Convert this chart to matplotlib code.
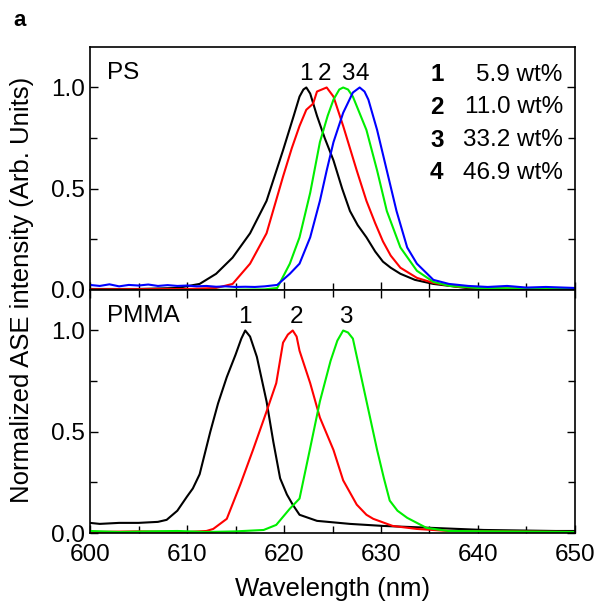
import matplotlib.pyplot as plt
from matplotlib.ticker import MultipleLocator, FormatStrFormatter

plt.rcParams['font.family'] = ['Liberation Sans', 'DejaVu Sans']

# ---- PS film (top panel) ----
ps1_wl = [600, 605, 609, 611.3, 613, 614.7, 616.5, 618.2, 619.9, 621, 621.6, 622.0, 622.3,
          622.7, 623.4, 624.2, 625.1, 626, 626.8, 627.6, 628.5, 629.4, 630.2, 631, 632,
          633.5, 635.4, 638.8, 642, 650]
ps1 = [0.005, 0.005, 0.01, 0.03, 0.08, 0.16, 0.28, 0.44, 0.69, 0.86, 0.955, 0.99, 1.0,
       0.97, 0.86, 0.75, 0.64, 0.50, 0.39, 0.32, 0.26, 0.19, 0.14, 0.11, 0.08,
       0.05, 0.03, 0.01, 0.005, 0.005]

ps2_wl = [600, 610, 613, 614.7, 616.5, 618.2, 619.9, 620.8, 621.6, 622.3, 623.0, 623.4,
          624.4, 625.1, 626.1, 627.5, 628.5, 629.4, 630.2, 631, 632, 633.7, 635.4, 638,
          642, 650]
ps2 = [0.003, 0.005, 0.01, 0.03, 0.13, 0.28, 0.56, 0.70, 0.81, 0.89, 0.92, 0.98,
       1.0, 0.955, 0.81, 0.59, 0.44, 0.33, 0.24, 0.17, 0.11, 0.06, 0.035, 0.015,
       0.008, 0.005]

ps3_wl = [600, 612, 618, 619.3, 620.6, 621.6, 622.7, 623.7, 624.5, 625.1, 625.7, 626.1,
          626.6, 627.1, 628.5, 629.6, 630.6, 632, 633.7, 635.4, 637.1, 640, 650]
ps3 = [0.0, 0.0, 0.003, 0.01, 0.13, 0.26, 0.48, 0.73, 0.86, 0.94, 0.99, 1.0,
       0.99, 0.955, 0.79, 0.59, 0.39, 0.21, 0.095, 0.04, 0.02, 0.01, 0.005]

ps4_wl = [600, 601, 602, 603, 604, 605, 606, 607, 608, 609, 610, 611, 612, 613, 614,
          615, 616, 617, 618, 619.3, 620.6, 621.6, 622.7, 623.7, 624.4, 625.1, 626.1,
          627.1, 627.8, 628.3, 628.7, 629.6, 630.6, 631.6, 632.7, 633.7, 635.4, 637, 639,
          641, 643, 645, 647, 650]
ps4 = [0.025, 0.02, 0.028, 0.018, 0.025, 0.022, 0.027, 0.02, 0.024, 0.02, 0.022, 0.018,
       0.02, 0.016, 0.018, 0.015, 0.016, 0.015, 0.018, 0.025, 0.08, 0.13, 0.26, 0.44,
       0.59, 0.73, 0.875, 0.975, 1.0, 0.98, 0.94, 0.79, 0.59, 0.39, 0.21, 0.13, 0.05,
       0.03, 0.02, 0.015, 0.02, 0.012, 0.015, 0.01]

# ---- PMMA film (bottom panel) ----
pm1_wl = [600, 601, 603, 605, 607, 607.9, 609, 610, 610.6, 611.3, 612.4, 613.2, 614.1,
          615, 615.6, 616, 616.5, 617.2, 618.2, 618.9, 619.6, 620.3, 620.9, 621.6, 623.4,
          626.8, 630.2, 635.4, 640.6, 648, 650]
pm1 = [0.05, 0.045, 0.05, 0.05, 0.055, 0.065, 0.11, 0.18, 0.22, 0.29, 0.5, 0.64, 0.77,
       0.88, 0.96, 1.0, 0.97, 0.87, 0.65, 0.45, 0.27, 0.19, 0.14, 0.09, 0.06,
       0.045, 0.035, 0.025, 0.015, 0.01, 0.01]

pm2_wl = [600, 605, 610, 612, 612.7, 614.1, 615.5, 616.8, 618.2, 619.2, 619.9, 620.4,
          620.9, 621.3, 621.6, 622.7, 623.7, 625.1, 626.1, 627.5, 628.5, 629.2, 631.2,
          633.7, 637, 650]
pm2 = [0.005, 0.008, 0.005, 0.01, 0.02, 0.07, 0.24, 0.41, 0.6, 0.74, 0.94, 0.98,
       1.0, 0.97, 0.9, 0.74, 0.57, 0.41, 0.26, 0.14, 0.09, 0.07, 0.035, 0.02,
       0.01, 0.005]

pm3_wl = [600, 603, 606, 609, 612, 615, 617.9, 619.2, 620.6, 621.6, 622.7, 623.7, 624.8,
          625.5, 626.1, 626.6, 627.1, 628.1, 629.6, 630.3, 630.9, 631.7, 632.7, 634.7,
          637, 650]
pm3 = [0.01, 0.005, 0.008, 0.01, 0.005, 0.008, 0.015, 0.04, 0.12, 0.17, 0.42, 0.65, 0.85,
       0.95, 1.0, 0.99, 0.96, 0.74, 0.41, 0.27, 0.16, 0.11, 0.075, 0.025, 0.01, 0.005]

ps_curves = [(ps1_wl, ps1), (ps2_wl, ps2), (ps3_wl, ps3), (ps4_wl, ps4)]
pm_curves = [(pm1_wl, pm1), (pm2_wl, pm2), (pm3_wl, pm3)]
colors = ['black', 'red', '#00ee00', 'blue']

ps_peak_labels = ['1', '2', '3', '4']
ps_peak_pos = [622.3, 624.2, 626.6, 628.1]
pm_peak_labels = ['1', '2', '3']
pm_peak_pos = [616.0, 621.3, 626.4]

legend_ids = ['1', '2', '3', '4']
legend_vals = ['5.9 wt%', '11.0 wt%', '33.2 wt%', '46.9 wt%']

fig, (ax1, ax2) = plt.subplots(2, 1, figsize=(6.01, 6.07), dpi=100, sharex=True)
fig.subplots_adjust(left=0.1498, right=0.9567, bottom=0.1219, top=0.9226, hspace=0)

for (wl, y), c in zip(ps_curves, colors):
    ax1.plot(wl, y, color=c, lw=1.5)
for (wl, y), c in zip(pm_curves, colors):
    ax2.plot(wl, y, color=c, lw=1.5)

for lab, x in zip(ps_peak_labels, ps_peak_pos):
    ax1.text(x, 1.01, lab, ha='center', va='bottom', fontsize=17.5)
for lab, x in zip(pm_peak_labels, pm_peak_pos):
    ax2.text(x, 1.01, lab, ha='center', va='bottom', fontsize=17.5)

for i, (num, val) in enumerate(zip(legend_ids, legend_vals)):
    yy = 0.885 - i * 0.134
    ax1.text(0.715, yy, num, transform=ax1.transAxes, ha='center', va='center',
             fontsize=17.5, fontweight='bold')
    ax1.text(0.975, yy, val, transform=ax1.transAxes, ha='right', va='center',
             fontsize=17.5)

ax1.text(0.035, 0.94, 'PS', transform=ax1.transAxes, ha='left', va='top', fontsize=17.5)
ax2.text(0.035, 0.94, 'PMMA', transform=ax2.transAxes, ha='left', va='top', fontsize=17.5)

for ax in (ax1, ax2):
    ax.set_xlim(600, 650)
    ax.set_ylim(0, 1.2)
    ax.xaxis.set_major_locator(MultipleLocator(10))
    ax.xaxis.set_minor_locator(MultipleLocator(5))
    ax.yaxis.set_major_locator(MultipleLocator(0.5))
    ax.yaxis.set_minor_locator(MultipleLocator(0.25))
    ax.yaxis.set_major_formatter(FormatStrFormatter('%.1f'))
    ax.tick_params(which='both', direction='in', right=True, labelsize=17.5, width=1)
    ax.tick_params(which='major', length=6)
    ax.tick_params(which='minor', length=5)
    for s in ax.spines.values():
        s.set_linewidth(1.2)

ax1.tick_params(which='both', top=False)
ax2.tick_params(which='both', top=True)
ax2.tick_params(axis='x', pad=8)

ax2.set_xlabel('Wavelength (nm)', fontsize=18.5, labelpad=8)
fig.text(0.037, 0.522, 'Normalized ASE intensity (Arb. Units)', rotation=90,
         ha='center', va='center', fontsize=18.5)
fig.text(0.022, 0.966, 'a', fontsize=16, fontweight='bold', ha='left', va='center')

fig.savefig('out.png', dpi=100)
